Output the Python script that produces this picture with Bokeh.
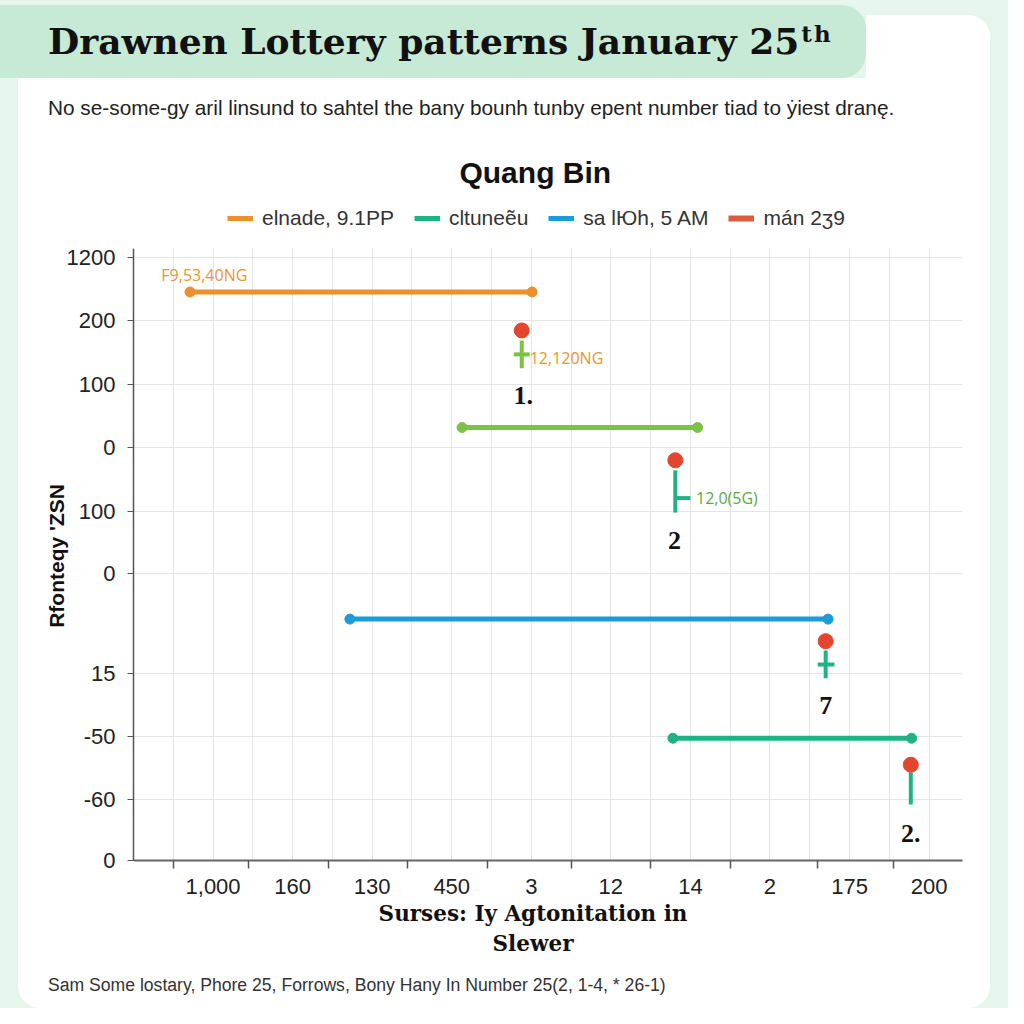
from bokeh.plotting import figure
from bokeh.layouts import column, row
from bokeh.models import (Range1d, FixedTicker, Label, BoxAnnotation, Legend, LegendItem, Div)
from bokeh.core.properties import value
from bokeh.embed import file_html
from bokeh.resources import INLINE

# ---------------- data ----------------
x_tick_pos = [1, 2, 3, 4, 5, 6, 7, 8, 9, 10]
x_tick_labels = ["1,000", "160", "130", "450", "3", "12", "14", "2", "175", "200"]
x_minor_pos = [0.5, 1.45, 2.45, 3.45, 4.45, 5.5, 6.5, 7.5, 8.6, 9.55]
x_grid_pos = [0.5, 1.0, 1.5, 2.0, 2.5, 3.0, 3.5, 4.0, 4.5, 5.0,
              5.5, 6.0, 6.5, 7.0, 7.5, 8.0, 8.5, 9.0, 9.5, 10.0]

y_tick_pos = [0.0, 0.97, 1.96, 2.97, 4.56, 5.54, 6.56, 7.56, 8.57, 9.57]
y_tick_labels = ["0", "-60", "-50", "15", "0", "100", "0", "100", "200", "1200"]
y_axis_top = 9.71

range_start = [0.71, 4.13, 2.72, 6.78]
range_end = [5.01, 7.09, 8.73, 9.78]
range_level = [9.02, 6.87, 3.83, 1.94]

draw_x = [4.88, 6.81, 8.70, 9.77]
draw_y = [8.41, 6.35, 3.48, 1.52]
stem_top = [8.25, 6.19, 3.33, 1.40]
stem_bottom = [7.81, 5.52, 2.89, 0.89]
cross_x0 = [4.78, 6.81, 8.60]
cross_x1 = [4.98, 7.00, 8.81]
cross_y = [8.03, 5.75, 3.11]
rank_text = ["1.", "2", "7", "2."]
rank_x = [4.90, 6.80, 8.70, 9.77]
rank_y = [7.38, 5.08, 2.46, 0.43]

value_text = ["F9,53,40NG", "12,120NG", "12,0(5G)"]
value_x = [0.35, 4.98, 7.07]
value_y = [9.29, 7.98, 5.75]

legend_labels = ["elnade, 9.1PP", "cltuneẽu", "sa lЮh, 5 AM", "mán 2ʒ9"]

title_text = "Drawnen Lottery patterns January 25"
title_sup = "th"
subtitle_text = "No se-some-gy aril linsund to sahtel the bany bounh tunby epent number tiad to ẏiest dranę."
chart_title = "Quang Bin"
x_label_lines = ["Surses: Iy Agtonitation in", "Slewer"]
y_label = "Rfonteqy 'ZSN"
footer_text = "Sam Some lostary, Phore 25, Forrows, Bony Hany In Number 25(2, 1-4, * 26-1)"

# ---------------- styles ----------------
ORANGE = "#e8912d"
LIME = "#7cc243"
BLUE = "#1b9bd8"
TEAL = "#1fb383"
RED = "#e4452f"
PAGE = "#e7f6ec"
BANNER = "#c6ead5"
NBSP = "\u00a0"

range_colors = [ORANGE, LIME, BLUE, TEAL]
stem_colors = [LIME, TEAL, TEAL, TEAL]
cross_colors = [LIME, TEAL, TEAL]
value_colors = ["#e8962e", "#e8962e", "#5aaa45"]

# ---------------- layout geometry (page pixels) ----------------
CARD_L, CARD_R = 18, 990
FIG_T, FIG_B = 140, 960
FL, FR, FT, FB = 133, 962, 248, 860
PX_PER_Y = (FB - FT) / y_axis_top

p = figure(width=CARD_R - CARD_L, height=FIG_B - FIG_T,
           output_backend="svg", toolbar_location=None,
           x_range=Range1d(0, 10.42), y_range=Range1d(0, (FB - FIG_T) / PX_PER_Y),
           min_border_left=FL - CARD_L, min_border_right=CARD_R - FR,
           min_border_top=0, min_border_bottom=FIG_B - FB,
           background_fill_color="white", border_fill_color="white")
p.title.visible = False
p.outline_line_color = None

# axes
xa = p.xaxis[0]
xa.ticker = FixedTicker(ticks=x_tick_pos, minor_ticks=x_minor_pos)
xa.major_label_overrides = {t: l for t, l in zip(x_tick_pos, x_tick_labels)}
xa.axis_line_color = "#666"
xa.axis_line_width = 2
xa.major_tick_line_color = None
xa.major_tick_out = 0
xa.major_tick_in = 0
xa.minor_tick_line_color = "#555"
xa.minor_tick_line_width = 1.5
xa.minor_tick_out = 8
xa.minor_tick_in = 0
xa.major_label_standoff = 10
xa.major_label_text_font = "Liberation Sans"
xa.major_label_text_font_size = "22px"
xa.major_label_text_color = "#222"
# trailing no-break spaces nudge the centred label slightly left, as in the reference
xa.axis_label = "\n".join(line + NBSP * 4 for line in x_label_lines)
xa.axis_label_text_font = "DejaVu Serif"
xa.axis_label_text_font_style = "bold"
xa.axis_label_text_font_size = "21.5px"
xa.axis_label_text_color = "#111"
xa.axis_label_standoff = 4

ya = p.yaxis[0]
ya.ticker = FixedTicker(ticks=y_tick_pos)
ya.major_label_overrides = {t: l for t, l in zip(y_tick_pos, y_tick_labels)}
ya.bounds = (0, y_axis_top)
ya.axis_line_color = "#555"
ya.axis_line_width = 1.5
ya.major_tick_line_color = "#555"
ya.major_tick_out = 6
ya.major_tick_in = 0
ya.minor_tick_line_color = None
ya.major_label_standoff = 12
ya.major_label_text_font = "Liberation Sans"
ya.major_label_text_font_size = "22px"
ya.major_label_text_color = "#222"
# trailing no-break spaces move the visible label down to the middle of the axis line
ya.axis_label = y_label + NBSP * 19
ya.axis_label_text_font = "Liberation Sans"
ya.axis_label_text_font_style = "bold"
ya.axis_label_text_font_size = "21px"
ya.axis_label_text_color = "#111"
ya.axis_label_standoff = -4

p.xgrid.ticker = FixedTicker(ticks=x_grid_pos)
p.xgrid.grid_line_color = "#e4e4e4"
p.ygrid.grid_line_color = "#e4e4e4"

# white cover so the grid stops at the top of the axis
p.add_layout(BoxAnnotation(bottom=y_axis_top, top=99, left=-99, right=99,
                           fill_color="white", fill_alpha=1, line_color=None))

# ranges (horizontal lines with end dots)
ranges_r = p.segment(x0=range_start, y0=range_level, x1=range_end, y1=range_level,
                     line_color=range_colors, line_width=5)
p.scatter(x=range_start + range_end, y=range_level + range_level,
          color=range_colors + range_colors, size=10)

# stems and crossbars
p.segment(x0=draw_x, y0=stem_top, x1=draw_x, y1=stem_bottom,
          line_color=stem_colors, line_width=4)
p.segment(x0=cross_x0, y0=cross_y, x1=cross_x1, y1=cross_y,
          line_color=cross_colors, line_width=4)
p.scatter(x=draw_x, y=draw_y, color=RED, size=15)
# zero-length red strokes: invisible on the plot, give the legend a line swatch
red_key = p.segment(x0=draw_x, y0=draw_y, x1=draw_x, y1=draw_y,
                    line_color="#de5a3c", line_width=6)

# texts
p.text(x=rank_x, y=rank_y, text=rank_text, text_font=value("Liberation Serif"),
       text_font_style="bold", text_font_size="26px", text_color="#111",
       text_align="center", text_baseline="middle")
p.text(x=value_x, y=value_y, text=value_text, text_font=value("Open Sans"),
       text_font_size="16px", text_color=value_colors,
       text_align="left", text_baseline="middle")

p.add_layout(Label(x=(535 - FL) / 79.6, y=(FB - 172) / PX_PER_Y, text=chart_title,
                   text_font="Liberation Sans", text_font_style="bold",
                   text_font_size="30px", text_color="#111",
                   text_align="center", text_baseline="middle"))

# legend
items = [
    LegendItem(label=legend_labels[0], renderers=[ranges_r], index=0),
    LegendItem(label=legend_labels[1], renderers=[ranges_r], index=3),
    LegendItem(label=legend_labels[2], renderers=[ranges_r], index=2),
    LegendItem(label=legend_labels[3], renderers=[red_key], index=0),
]
legend = Legend(items=items, orientation="horizontal",
                location=(227 - FL, FB - 230),
                glyph_width=26, glyph_height=20, label_standoff=9, spacing=20,
                padding=5, margin=0, label_text_font="Liberation Sans",
                label_text_font_size="21px", label_text_color="#333",
                background_fill_alpha=0, border_line_color=None)
p.add_layout(legend, "center")

# ---------------- page furniture ----------------
banner = Div(
    text=('<div style="padding-left:48px;line-height:73px;white-space:nowrap;'
          'font-family:\'DejaVu Serif\';font-weight:bold;font-size:36px;color:#111;">'
          + title_text +
          '<span style="position:relative;top:-12px;margin-left:2px;font-size:23px;'
          'letter-spacing:2px;">' + title_sup + '</span></div>'),
    width=866, height=73, margin=(5, 0, 0, 0),
    styles={"background-color": BANNER, "border-radius": "0 24px 24px 0"})
card_top = Div(text="", width=CARD_R - 866, height=63, margin=(15, 0, 0, 0),
               styles={"background-color": "white", "border-top-right-radius": "22px"})
subtitle = Div(
    text=('<div style="padding-left:30px;line-height:60px;white-space:nowrap;'
          'font-family:\'Liberation Sans\';font-size:20.8px;color:#222;">'
          + subtitle_text + '</div>'),
    width=CARD_R - CARD_L, height=FIG_T - 78, margin=0)
footer = Div(
    text=('<div style="padding-left:30px;line-height:50px;white-space:nowrap;'
          'font-family:\'Liberation Sans\';font-size:17.6px;color:#333;">'
          + footer_text + '</div>'),
    width=CARD_R - CARD_L, height=48, margin=0)

card = column(subtitle, p, footer, width=CARD_R - CARD_L, margin=(0, 0, 0, CARD_L),
              styles={"background-color": "white", "border-radius": "0 0 22px 22px"})
top_row = row(banner, card_top, margin=0)
root = column(top_row, card, width=1008, height=1008, margin=0,
              styles={"background-color": PAGE})

open("out.html", "w").write(file_html(root, INLINE))
